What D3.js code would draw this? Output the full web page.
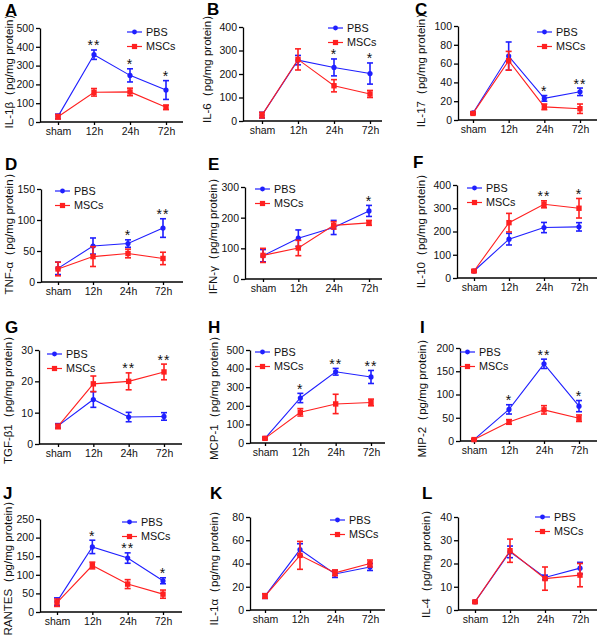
<!DOCTYPE html>
<html><head><meta charset="utf-8">
<script src="https://cdn.jsdelivr.net/npm/d3@7/dist/d3.min.js"></script>
<style>body{margin:0;background:#fff}svg{display:block}text{font-family:Arial,"Liberation Sans",sans-serif}</style>
</head><body>
<svg id="c" width="600" height="636"></svg>
<script>
const categories = ["sham","12h","24h","72h"];
const seriesNames = ["PBS","MSCs"];
const panelLetters = ["A","B","C","D","E","F","G","H","I","J","K","L"];
const cytokines = ["IL-1β","IL-6","IL-17","TNF-α","IFN-γ","IL-10","TGF-β1","MCP-1","MIP-2","RANTES","IL-1α","IL-4"];
const unitLabel = "（pg/mg protein）";
const yTicks = [
  [0,100,200,300,400,500],[0,100,200,300,400],[0,20,40,60,80,100],[0,50,100,150],
  [0,100,200,300],[0,100,200,300,400],[0,10,20,30],[0,100,200,300,400,500],
  [0,50,100,150,200],[0,50,100,150,200,250],[0,20,40,60,80],[0,10,20,30,40]
];
const pbsMean = [
  [30,358,248,170],[25,259,228,202],[7.5,68,23,30],[22,58,62,87],
  [76,133,168,222],[30,167,217,220],[5.8,14.2,8.6,8.8],[25,242,383,355],
  [3,68,166,75],[28,175,145,84],[12,52,31,37],[3.5,25,14,18]
];
const pbsErr = [
  [12,25,35,50],[12,20,36,45],[1,15,3,4],[10,13,6,15],
  [20,27,23,18],[5,25,22,18],[0.7,2.5,1.5,1.2],[6,25,18,35],
  [1,10,10,12],[10,18,14,8],[2,5,3,3],[0.5,2.5,1,2.5]
];
const mscMean = [
  [28,158,160,78],[25,262,150,115],[7,63,14,12],[21,41,46,38],
  [77,101,175,183],[30,238,317,300],[5.6,19.2,20,23],[25,165,210,218],
  [3,41,67,49],[25,125,75,48],[12,47,32,40],[3.5,25.5,13.5,15]
];
const mscErr = [
  [12,20,20,12],[12,45,26,15],[1,10,3,5],[11,16,7,10],
  [23,25,12,8],[5,40,15,42],[0.7,2.5,2.7,2.5],[6,20,52,18],
  [1,5,9,7],[10,9,12,11],[2,12,2.5,3],[0.5,5,5,5]
];
const sigMarks = [
  ["","**","*","*"],["","","*","*"],["","","*","**"],["","","*","**"],
  ["","","","*"],["","","**","*"],["","","**","**"],["","*","**","**"],
  ["","*","**","*"],["","*","**","*"],["","","",""],["","","",""]
];

// layout (pixel geometry only)
const layout = [
 {ox:40, yT:28, yB:122, xE:183, c0:58, c3:166, lx:127, ly:32, tx:5, ty:16, labX:9, labY:68},
 {ox:243, yT:27, yB:121, xE:382, c0:262, c3:370, lx:328, ly:28, tx:207, ty:15, labX:207, labY:66},
 {ox:458, yT:26, yB:120, xE:597, c0:473, c3:580, lx:537, ly:32, tx:415, ty:15, labX:421, labY:67},
 {ox:41, yT:189, yB:282, xE:183, c0:58, c3:163, lx:55, ly:191, tx:5, ty:170, labX:9, labY:231},
 {ox:245, yT:187, yB:279, xE:382, c0:263, c3:369, lx:255, ly:189, tx:208, ty:170, labX:213, labY:233},
 {ox:457, yT:185, yB:278, xE:597, c0:474, c3:579, lx:467, ly:188, tx:413, ty:168, labX:421, labY:228},
 {ox:39, yT:350, yB:444, xE:182, c0:58, c3:164, lx:47, ly:354, tx:5, ty:333, labX:8, labY:397},
 {ox:250, yT:350, yB:443, xE:385, c0:265, c3:371, lx:255, ly:352, tx:208, ty:333, labX:214, labY:395},
 {ox:460, yT:348, yB:441, xE:597, c0:474, c3:579, lx:460, ly:352, tx:420, ty:333, labX:422, labY:395},
 {ox:40, yT:519, yB:612, xE:182, c0:57, c3:163, lx:122, ly:522, tx:3, ty:499, labX:8, labY:565},
 {ox:250, yT:517, yB:610, xE:385, c0:265, c3:370, lx:330, ly:520, tx:210, ty:499, labX:214, labY:565},
 {ox:458, yT:517, yB:610, xE:597, c0:475, c3:580, lx:535, ly:517, tx:422, ty:499, labX:426, labY:561}
];
const colors = {PBS:"#1f1fff", MSCs:"#ff2020"};

const svg = d3.select("#c");

layout.forEach((L, i) => {
  const g = svg.append("g");
  const ticks = yTicks[i];
  const y = d3.scaleLinear().domain([0, ticks[ticks.length-1]]).range([L.yB, L.yT]);
  const x = d3.scalePoint().domain(categories).range([L.c0, L.c3]);

  // y axis
  const ya = g.append("g").attr("transform", `translate(${L.ox},0)`)
    .call(d3.axisLeft(y).tickValues(ticks).tickSize(4).tickPadding(2).tickSizeOuter(0));
  ya.select(".domain").attr("stroke","#000").attr("stroke-width",1.3);
  ya.selectAll(".tick line").attr("stroke","#000").attr("stroke-width",1.3);
  ya.selectAll(".tick text").attr("font-size",10.5).attr("fill","#111").attr("font-family","Arial,'Liberation Sans',sans-serif");

  // x axis
  const xa = g.append("g").attr("transform", `translate(0,${L.yB})`)
    .call(d3.axisBottom(x).tickSize(3).tickPadding(3).tickSizeOuter(0));
  xa.select(".domain").attr("d", `M${L.ox},0H${L.xE}`).attr("stroke","#000").attr("stroke-width",1.3);
  xa.selectAll(".tick line").attr("stroke","#000").attr("stroke-width",1.3);
  xa.selectAll(".tick text").attr("font-size",10.5).attr("fill","#111").attr("font-family","Arial,'Liberation Sans',sans-serif");

  // y label
  g.append("text").attr("transform", `translate(${L.labX + 4},${L.labY}) rotate(-90)`)
    .attr("text-anchor","middle").attr("font-size",11.5).attr("fill","#111")
    .text(cytokines[i] + unitLabel);

  // letter
  g.append("text").attr("x", L.tx).attr("y", L.ty).attr("font-size",17).attr("font-weight","bold")
    .attr("fill","#000").text(panelLetters[i]);

  const series = [
    {name:"PBS", mean:pbsMean[i], err:pbsErr[i]},
    {name:"MSCs", mean:mscMean[i], err:mscErr[i]}
  ];
  series.forEach(s => {
    const c = colors[s.name];
    const pts = categories.map((k, j) => ({k, m:s.mean[j], e:s.err[j]}));
    g.append("path").datum(pts)
      .attr("d", d3.line().x(d => x(d.k)).y(d => y(d.m)))
      .attr("fill","none").attr("stroke",c).attr("stroke-width",1.1);
    const eb = g.append("g").attr("stroke",c).attr("stroke-width",1.6);
    pts.forEach(d => {
      const cx = x(d.k);
      eb.append("line").attr("x1",cx).attr("x2",cx).attr("y1",y(d.m+d.e)).attr("y2",y(Math.max(0,d.m-d.e)));
      eb.append("line").attr("x1",cx-3).attr("x2",cx+3).attr("y1",y(d.m+d.e)).attr("y2",y(d.m+d.e));
      eb.append("line").attr("x1",cx-3).attr("x2",cx+3).attr("y1",y(Math.max(0,d.m-d.e))).attr("y2",y(Math.max(0,d.m-d.e)));
    });
    pts.forEach(d => {
      if (s.name === "PBS") g.append("circle").attr("cx",x(d.k)).attr("cy",y(d.m)).attr("r",2.6).attr("fill",c);
      else g.append("rect").attr("x",x(d.k)-2.7).attr("y",y(d.m)-2.7).attr("width",5.4).attr("height",5.4).attr("fill",c);
    });
  });

  // significance
  categories.forEach((k, j) => {
    const mk = sigMarks[i][j];
    if (!mk) return;
    const top = Math.max(pbsMean[i][j] + pbsErr[i][j], mscMean[i][j] + mscErr[i][j]);
    g.append("text").attr("x", x(k)).attr("y", y(top) + 0.5).attr("text-anchor","middle")
      .attr("font-size",14).attr("letter-spacing",1).attr("fill","#111").text(mk);
  });

  // legend
  seriesNames.forEach((n, j) => {
    const ly = L.ly + j*14.5;
    const c = colors[n];
    g.append("line").attr("x1",L.lx).attr("x2",L.lx+15).attr("y1",ly).attr("y2",ly).attr("stroke",c).attr("stroke-width",1.2);
    if (n === "PBS") g.append("circle").attr("cx",L.lx+7.5).attr("cy",ly).attr("r",2.4).attr("fill",c);
    else g.append("rect").attr("x",L.lx+7.5-2.6).attr("y",ly-2.6).attr("width",5.2).attr("height",5.2).attr("fill",c);
    g.append("text").attr("x",L.lx+19).attr("y",ly+3.8).attr("font-size",10.8).attr("fill","#111").text(n);
  });
});
</script>
</body></html>
